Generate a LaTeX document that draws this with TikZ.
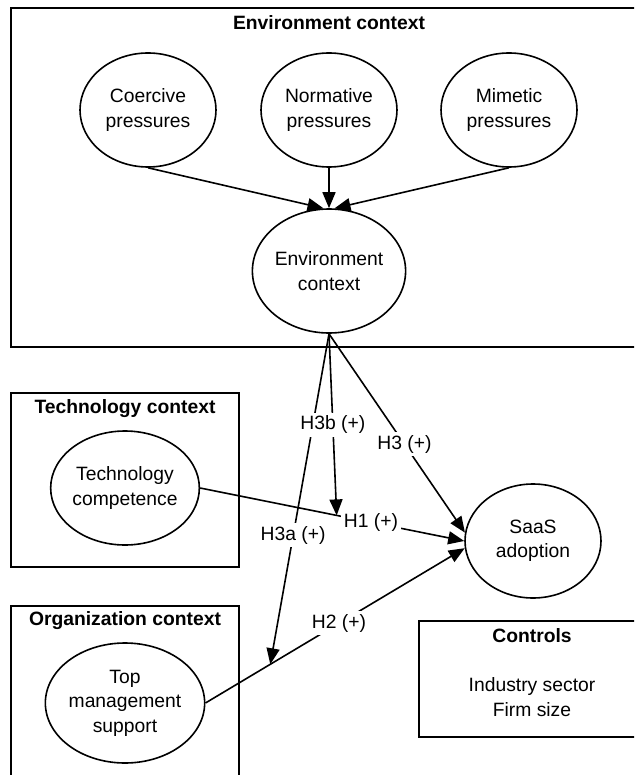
\documentclass[tikz,border=0pt]{standalone}
\usepackage{fontspec}
\setmainfont{Liberation Sans}
\usetikzlibrary{shapes.geometric,arrows.meta,calc}
\newcommand\dfont{\fontsize{19.3}{24.5}\selectfont}
\begin{document}
\begin{tikzpicture}[x=1pt,y=-1pt,
  ell/.style={ellipse, draw, line width=1.6pt, inner sep=0pt, minimum width=136pt, minimum height=114pt, align=center, font=\dfont},
  ctx/.style={draw, line width=1.6pt},
  ttl/.style={font=\bfseries\dfont, inner sep=0pt},
  arr/.style={line width=1.6pt, -{Triangle[length=16pt,width=13pt]}},
  lbl/.style={fill=white, inner sep=3pt, font=\dfont}
]
\useasboundingbox (0,0) rectangle (634,775);
\begin{scope}
\clip (0,0) rectangle (634,775);
\draw[ctx] (11,8) rectangle (660,347);
\draw[ctx] (11,393) rectangle (239,567);
\draw[ctx] (11,606) rectangle (239,800);
\draw[ctx] (419,621) rectangle (660,737);
\end{scope}

\node[ttl] (envtitle) at (329,23) {Environment context};
\node[ttl] (techtitle) at (125,409) {Technology context};
\node[ttl] (orgtitle) at (125,621) {Organization context};
\node[ttl] (ctrltitle) at (532,636) {Controls};
\node[font=\dfont, align=center, inner sep=0pt] (ctrltext) at (532,697) {Industry sector\\Firm size};

\node[ell] (coe) at (148,110) {Coercive\\pressures};
\node[ell] (nor) at (329,110) {Normative\\pressures};
\node[ell] (mim) at (509,110) {Mimetic\\pressures};
\node[ell, minimum width=138pt, minimum height=124pt] (env) at (329,271) {Environment\\context};
\node[ell] (tc) at (125,488) {Technology\\competence};
\node[ell] (saas) at (533,541) {SaaS\\adoption};
\node[ell, minimum height=120pt] (tms) at (125,703) {Top\\management\\support};

\draw[arr] (coe.south) -- (env.95);
\draw[arr] (nor.south) -- (env.north);
\draw[arr] (mim.south) -- (env.85);

\coordinate (m1) at ($(tc.east)!0.517!(saas.west)$);
\coordinate (m2) at ($(tms.east)!0.25!(saas.186)$);

\draw[arr] (tc.east) -- (saas.west) node[lbl, pos=0.647] (l1) {H1 (+)};
\draw[arr] (tms.east) -- (saas.186) node[lbl, pos=0.515] (l2) {H2 (+)};
\draw[arr] (env.south) -- (saas.173) node[lbl, pos=0.555] (l3) {H3 (+)};
\draw[arr] (env.south) -- (m2) node[lbl, pos=0.61] (l3a) {H3a (+)};
\draw[arr] (env.south) -- (m1) node[lbl, pos=0.5] (l3b) {H3b (+)};
\end{tikzpicture}
\end{document}
